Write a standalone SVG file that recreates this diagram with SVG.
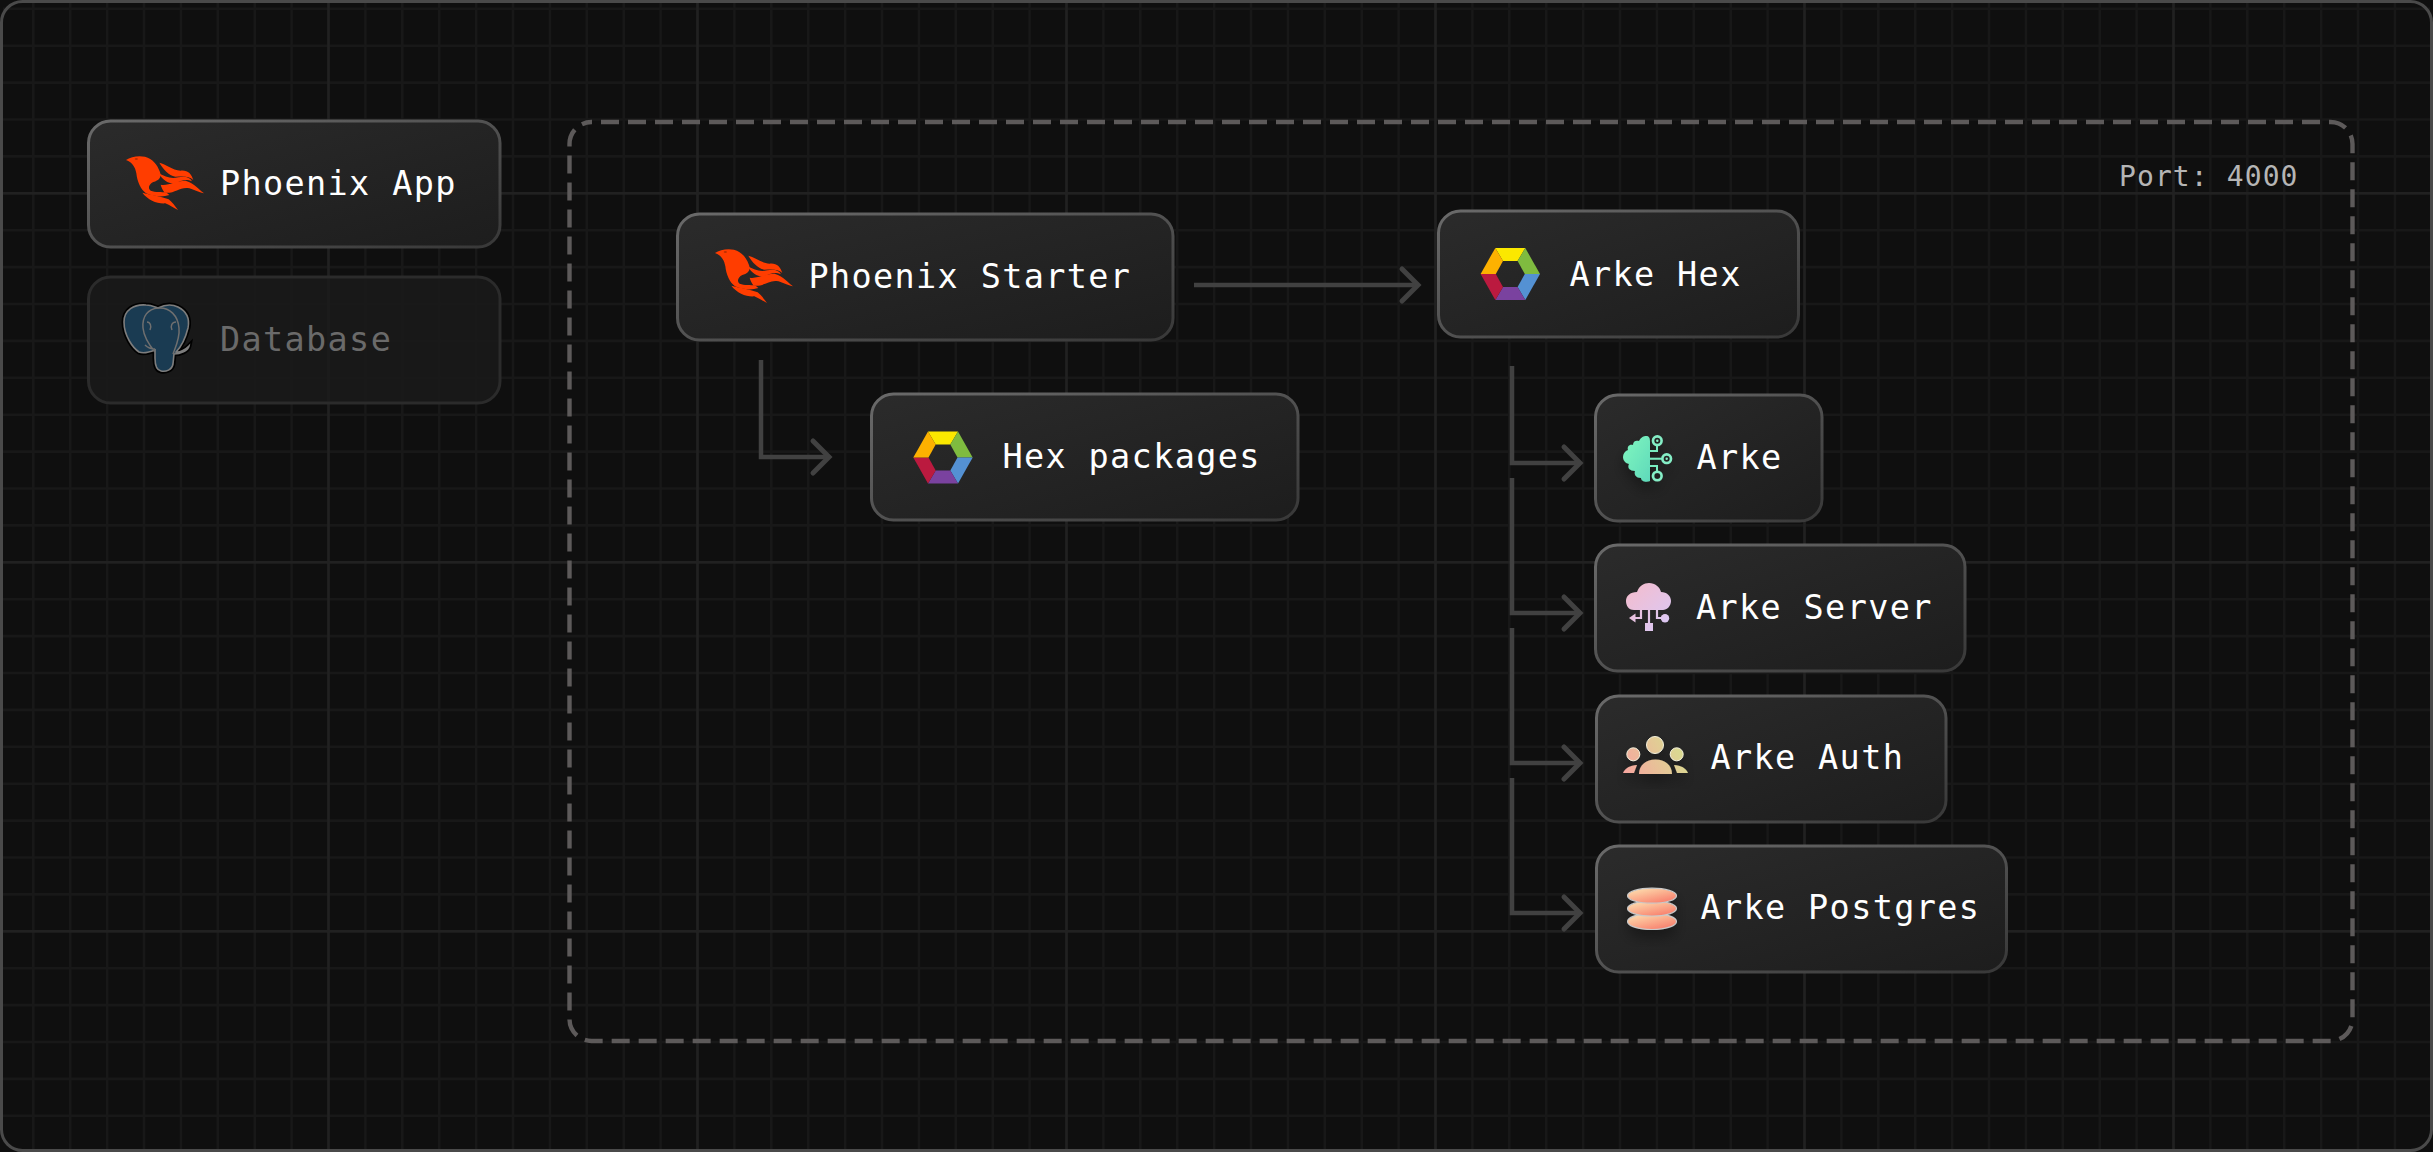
<svg xmlns="http://www.w3.org/2000/svg" width="2433" height="1152" viewBox="0 0 2433 1152">
<style>
.n{fill:url(#nf);stroke:url(#ns);stroke-width:3}
.d{fill:#1a1a1a;fill-opacity:.8;stroke:#2b2b2b;stroke-width:3}
.t{font-family:"DejaVu Sans Mono","Liberation Mono",monospace;font-size:33.5px;letter-spacing:1.35px;fill:#fff}
.c{fill:none;stroke:#414141;stroke-width:4.5;marker-end:url(#chev)}
.gm{stroke:#181818;stroke-width:2.6}
.gs{stroke:#212121;stroke-width:2.8}
</style>
<defs>
<linearGradient id="nf" x1="0" y1="0" x2="1" y2="1"><stop offset="0" stop-color="#2b2b2b"/><stop offset="1" stop-color="#1d1d1d"/></linearGradient>
<linearGradient id="ns" x1="0" y1="0" x2="1" y2="1"><stop offset="0" stop-color="#6a6a6a"/><stop offset="1" stop-color="#383838"/></linearGradient>
<linearGradient id="br" x1="0" y1="0" x2="1" y2="1"><stop offset="0" stop-color="#80f7bf"/><stop offset="1" stop-color="#5fd9ba"/></linearGradient>
<linearGradient id="cl" gradientUnits="userSpaceOnUse" x1="1626" y1="583" x2="1671" y2="630"><stop offset="0" stop-color="#f5bccb"/><stop offset="1" stop-color="#d9c9f8"/></linearGradient>
<linearGradient id="pp" gradientUnits="userSpaceOnUse" x1="1623" y1="775" x2="1687" y2="738"><stop offset="0" stop-color="#f8a4a0"/><stop offset="1" stop-color="#d4e48e"/></linearGradient>
<linearGradient id="st" x1=".15" y1="0" x2=".85" y2="1"><stop offset="0" stop-color="#fde0b0"/><stop offset="1" stop-color="#f87868"/></linearGradient>
<filter id="sh" x="-30%" y="-30%" width="160%" height="170%"><feDropShadow dx="0" dy="8" stdDeviation="7" flood-color="#000" flood-opacity=".35"/></filter>
<marker id="chev" markerUnits="userSpaceOnUse" markerWidth="40" markerHeight="48" refX="20" refY="24" orient="auto" overflow="visible"><path d="M4 8L20 24L4 40" fill="none" stroke="#414141" stroke-width="5" stroke-linecap="round"/></marker>
<g id="phoenix" transform="translate(110 140) scale(.3333)" fill="#ff3d00"><path d="M48 60C62 50 85 46 105 50C128 56 142 74 150 96C156 112 146 122 130 126C118 132 112 144 122 152C136 158 154 154 170 158L178 165C158 172 128 170 108 160C92 148 82 126 79 100C76 82 68 68 48 60Z"/><path d="M148 68C168 72 186 90 212 92C234 90 244 102 250 120C236 106 216 110 196 110C176 106 160 88 148 68Z"/><path d="M146 100C166 110 182 118 205 112C226 108 240 112 246 124C228 116 214 122 196 130C180 134 158 122 146 100Z"/><path d="M152 134C176 138 196 122 226 122C246 126 260 142 282 160C262 156 250 146 232 144C208 142 192 162 164 158C158 150 154 142 152 134Z"/><path d="M97 158C120 164 150 168 176 178C186 186 195 198 204 210C190 203 180 196 166 190C142 192 114 180 97 158Z"/><ellipse cx="79" cy="57" rx="5" ry="2" fill="#a82a00"/></g>
<g id="hex"><path fill="#fbe800" d="M-15 -26H15L7.3 -13H-7.3Z"/><path fill="#7fbb3f" d="M15 -26L29.7 0H14.5L7.3 -13Z"/><path fill="#5491d3" d="M29.7 0L15 26L7.3 13L14.5 0Z"/><path fill="#7a429f" d="M15 26H-15L-7.3 13H7.3Z"/><path fill="#bb1a3f" d="M-15 26L-29.7 0H-14.5L-7.3 13Z"/><path fill="#fdb100" d="M-29.7 0L-15 -26L-7.3 -13L-14.5 0Z"/></g>
</defs>
<rect width="2433" height="1152" fill="#0f0f0f"/>
<path class="gm" d="M33.3 3V1149M70.2 3V1149M107.1 3V1149M144 3V1149M180.9 3V1149M217.8 3V1149M254.7 3V1149M291.6 3V1149M365.4 3V1149M402.3 3V1149M439.2 3V1149M476.1 3V1149M513 3V1149M549.9 3V1149M586.8 3V1149M623.7 3V1149M660.6 3V1149M734.4 3V1149M771.3 3V1149M808.2 3V1149M845.1 3V1149M882 3V1149M918.9 3V1149M955.8 3V1149M992.7 3V1149M1029.6 3V1149M1103.4 3V1149M1140.3 3V1149M1177.2 3V1149M1214.1 3V1149M1251 3V1149M1287.9 3V1149M1324.8 3V1149M1361.7 3V1149M1398.6 3V1149M1472.4 3V1149M1509.3 3V1149M1546.2 3V1149M1583.1 3V1149M1620 3V1149M1656.9 3V1149M1693.8 3V1149M1730.7 3V1149M1767.6 3V1149M1841.4 3V1149M1878.3 3V1149M1915.2 3V1149M1952.1 3V1149M1989 3V1149M2025.9 3V1149M2062.8 3V1149M2099.7 3V1149M2136.6 3V1149M2210.4 3V1149M2247.3 3V1149M2284.2 3V1149M2321.1 3V1149M2358 3V1149M2394.9 3V1149M3 8.8H2430M3 45.7H2430M3 82.6H2430M3 119.5H2430M3 156.4H2430M3 230.2H2430M3 267.1H2430M3 304H2430M3 340.9H2430M3 377.8H2430M3 414.7H2430M3 451.6H2430M3 488.5H2430M3 525.4H2430M3 599.2H2430M3 636.1H2430M3 673H2430M3 709.9H2430M3 746.8H2430M3 783.7H2430M3 820.6H2430M3 857.5H2430M3 894.4H2430M3 968.2H2430M3 1005.1H2430M3 1042H2430M3 1078.9H2430M3 1115.8H2430"/>
<path class="gs" d="M328.5 3V1149M697.5 3V1149M1066.5 3V1149M1435.5 3V1149M1804.5 3V1149M2173.5 3V1149M3 193.3H2430M3 562.3H2430M3 931.3H2430"/>
<rect x="1.5" y="1.5" width="2430" height="1149" rx="21" fill="none" stroke="#4a4a4a" stroke-width="3"/>
<g id="container"><rect x="569.5" y="122" width="1783" height="919" rx="22" fill="none" stroke="#5d5a5a" stroke-width="4.4" stroke-dasharray="18 9" stroke-dashoffset="-9.5"/><text x="2119" y="186" font-family="DejaVu Sans Mono,Liberation Mono,monospace" font-size="28" letter-spacing="1.1" fill="#b5b5b5">Port: 4000</text></g>
<g id="connectors">
<path class="c" d="M1194 285H1418"/>
<path class="c" d="M761 360V457H829"/>
<path class="c" d="M1512 366V463H1580"/>
<path class="c" d="M1512 478V613H1580"/>
<path class="c" d="M1512 628V763H1580"/>
<path class="c" d="M1512 778V913H1580"/>
</g>
<g id="phoenix-app"><rect class="n" x="88.5" y="121" width="411.5" height="126" rx="22"/><use href="#phoenix"/><text class="t" x="220" y="195">Phoenix App</text></g>
<g id="database"><rect class="d" x="88.5" y="277" width="411.5" height="126" rx="22"/>
<path d="M124 322C124 310 134 304 146 305C151 305 155 307 158 308C164 305 172 304 178 307C186 311 190 318 188 328C186 336 182 346 176 352C180 353 186 349 189 346C188 351 180 354 174 354L173 364C172 370 166 372 161 371C156 370 155 365 155 358L155 350C150 352 144 354 139 352C133 348 124 336 124 322Z" fill="#1a3b52" stroke="#000" stroke-width="5"/>
<path d="M124 322C124 310 134 304 146 305C151 305 155 307 158 308C164 305 172 304 178 307C186 311 190 318 188 328C186 336 182 346 176 352C180 353 186 349 189 346C188 351 180 354 174 354L173 364C172 370 166 372 161 371C156 370 155 365 155 358L155 350C150 352 144 354 139 352C133 348 124 336 124 322Z" fill="#1a3b52" stroke="#7d7d7d" stroke-width="1.6"/>
<path d="M158 308C148 309 142 316 143 328C144 338 150 346 155 352M158 308C170 307 178 316 179 328C180 338 176 346 173 354M147 322C150 322 152 326 150 330M176 322C172 322 170 326 172 330M145 345C148 348 152 349 155 349" fill="none" stroke="#6f6f6f" stroke-width="1.5"/>
<text class="t" style="fill:#6a6a6a" x="220" y="351">Database</text></g>
<g id="phoenix-starter"><rect class="n" x="677.5" y="214" width="495.5" height="126" rx="22"/><use href="#phoenix" transform="translate(589 93)"/><text class="t" x="808.5" y="287.5">Phoenix Starter</text></g>
<g id="hex-packages"><rect class="n" x="871.5" y="394" width="426.5" height="126" rx="22"/><use href="#hex" transform="translate(943 457.5)"/><text class="t" x="1002.5" y="467.5">Hex packages</text></g>
<g id="arke-hex"><rect class="n" x="1438.5" y="211" width="360" height="126" rx="22"/><use href="#hex" transform="translate(1510.3 274)"/><text class="t" x="1569.5" y="285.5">Arke Hex</text></g>
<g id="arke"><rect class="n" x="1595.5" y="395" width="226.5" height="126" rx="22"/>
<g filter="url(#sh)"><path fill="url(#br)" d="M1646 436C1649 436 1650 438 1650 441V481C1646 483 1641 481 1641 478C1636 478 1634 475 1635 471C1630 471 1627 468 1629 464C1625 463 1623 460 1623 457C1623 454 1625 451 1628 450C1627 447 1629 444 1633 445C1633 441 1636 440 1639 441C1641 437 1644 436 1646 436Z"/>
<path d="M1650 451H1657V444M1650 458.7H1662M1650 466H1657V472" fill="none" stroke="#79ecc0" stroke-width="2"/>
<g fill="none" stroke="#85eec6" stroke-width="2.6"><circle cx="1657.3" cy="440.7" r="4.3"/><circle cx="1666.7" cy="458.7" r="4.3"/><circle cx="1657.3" cy="476" r="4.3"/></g><g fill="#85eec6"><circle cx="1657.3" cy="440.7" r="1.2"/><circle cx="1666.7" cy="458.7" r="1.2"/></g></g>
<text class="t" x="1696.5" y="468.5">Arke</text></g>
<g id="arke-server"><rect class="n" x="1595.5" y="545" width="369.5" height="126" rx="22"/>
<g fill="url(#cl)"><path d="M1634 610C1628 610 1626 605 1626 601C1626 596 1630 592 1637 592C1639 586 1644 583 1649 583C1655 583 1660 587 1661 592C1667 592 1671 596 1671 601C1671 606 1667 610 1663 610Z"/><rect x="1645" y="623" width="8" height="8"/><circle cx="1665" cy="618.3" r="4.2"/><path d="M1629 618L1635.5 613.5V622.5Z"/></g>
<path d="M1649 609V624M1641 609V618H1634M1657 609V618H1662" fill="none" stroke="url(#cl)" stroke-width="2.2"/>
<text class="t" x="1696" y="618.5">Arke Server</text></g>
<g id="arke-auth"><rect class="n" x="1596.5" y="696" width="349.5" height="126" rx="22"/>
<g filter="url(#sh)" fill="url(#pp)" stroke="#f3f0dc" stroke-width="1"><circle cx="1655" cy="745" r="8.5"/><circle cx="1633.3" cy="754.3" r="6.5"/><circle cx="1676.7" cy="754.3" r="6.5"/><path stroke="none" d="M1639 774C1639 765 1646 759.5 1655.5 759.5C1665 759.5 1672 765 1672 774Z"/><path stroke="none" d="M1623 773C1625 768 1630 765.5 1637 765L1634 773Z"/><path stroke="none" d="M1688 773C1686 768 1681 765.5 1674 765L1677 773Z"/></g>
<text class="t" x="1710.5" y="768.5">Arke Auth</text></g>
<g id="arke-postgres"><rect class="n" x="1596.5" y="846" width="410" height="126" rx="22"/>
<g filter="url(#sh)" fill="url(#st)" stroke="#c9c9c9" stroke-width="1.2"><ellipse cx="1652" cy="921.5" rx="24.5" ry="8"/><ellipse cx="1652" cy="908.5" rx="24.5" ry="7.5"/><ellipse cx="1652" cy="895.7" rx="24.5" ry="7.5"/></g>
<text class="t" x="1700.5" y="918.5">Arke Postgres</text></g>
</svg>
